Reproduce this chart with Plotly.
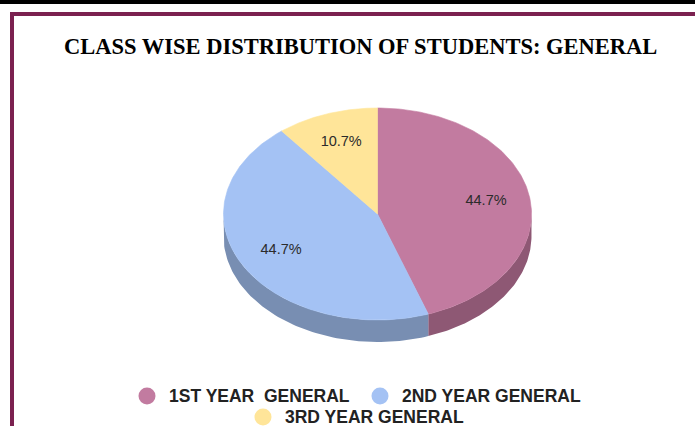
import numpy as np
import plotly.graph_objects as go

# ---- data ----
categories = ["1ST YEAR  GENERAL", "2ND YEAR GENERAL", "3RD YEAR GENERAL"]
values = [44.7, 44.7, 10.7]
top_colors = ["#C27BA0", "#A4C2F4", "#FFE599"]
side_colors = ["#8E5874", "#788EB2", "#BBA870"]
title_text = "CLASS WISE DISTRIBUTION OF STUDENTS: GENERAL"

# ---- geometry (pixel space) ----
W, H = 695, 426
cx, cy = 377.5, 214.0
a, b = 154.0, 106.0
depth = 22.0
label_r = 0.715


def pt(theta_deg, yoff=0.0, r=1.0):
    t = np.radians(theta_deg)
    return cx + r * a * np.sin(t), cy - r * b * np.cos(t) + yoff


fig = go.Figure()

total = sum(values)
fracs = [v / total for v in values]
starts = np.cumsum([0] + fracs[:-1]) * 360
ends = np.cumsum(fracs) * 360

# side faces (visible front half: 90..270 degrees)
for s, e, col in zip(starts, ends, side_colors):
    lo, hi = max(s, 90), min(e, 270)
    if hi <= lo:
        continue
    th = np.linspace(lo, hi, 80)
    xs_top, ys_top = pt(th)
    xs_bot, ys_bot = pt(th[::-1], depth)
    xs = np.concatenate([xs_top, xs_bot, xs_top[:1]])
    ys = np.concatenate([ys_top, ys_bot, ys_top[:1]])
    fig.add_trace(go.Scatter(x=xs, y=ys, mode="lines", fill="toself",
                             fillcolor=col, line=dict(width=0, color=col),
                             hoverinfo="skip", showlegend=False))

# top faces
for cat, s, e, col in zip(categories, starts, ends, top_colors):
    th = np.linspace(s, e, 150)
    xs_arc, ys_arc = pt(th)
    xs = np.concatenate([[cx], xs_arc, [cx]])
    ys = np.concatenate([[cy], ys_arc, [cy]])
    fig.add_trace(go.Scatter(x=xs, y=ys, mode="lines", fill="toself",
                             fillcolor=col, line=dict(width=0.6, color=col),
                             name=cat, hoverinfo="name", showlegend=False))

# percentage labels
lx, ly, lt = [], [], []
for s, e, f in zip(starts, ends, fracs):
    x, y = pt((s + e) / 2, r=label_r)
    lx.append(x)
    ly.append(y)
    lt.append(f"{f*100:.1f}%")
fig.add_trace(go.Scatter(x=lx, y=ly, mode="text", text=lt,
                         textfont=dict(family="Liberation Sans, Arial", size=14.5, color="#2b2b2b"),
                         hoverinfo="skip", showlegend=False))

# manual legend
leg_pos = [(147, 396), (380, 396), (263, 417)]
fig.add_trace(go.Scatter(x=[p[0] for p in leg_pos], y=[p[1] for p in leg_pos],
                         mode="markers",
                         marker=dict(size=17, color=top_colors, line=dict(width=0)),
                         hoverinfo="skip", showlegend=False))
annotations = []
for cat, (x, y) in zip(categories, leg_pos):
    annotations.append(dict(x=x + 20, y=y, xref="x", yref="y", text=cat.replace("  ", "\u00a0 "),
                            showarrow=False, xanchor="left", yanchor="middle",
                            font=dict(family="Liberation Sans, Arial", size=17.5, color="#222222",
                                      weight="bold")))

annotations.append(dict(x=360.5, y=46, xref="x", yref="y", text=f"<b>{title_text}</b>",
                        showarrow=False, xanchor="center", yanchor="middle",
                        font=dict(family="Liberation Serif, Times New Roman", size=22.5, color="#000000")))

shapes = [
    dict(type="rect", xref="x", yref="y", x0=0, x1=W, y0=0, y1=4, fillcolor="#000000",
         line=dict(width=0), layer="above"),
    dict(type="path", xref="x", yref="y", path=f"M 12 {H+5} L 12 14 L {W+5} 14",
         line=dict(color="#7B2150", width=4), layer="above"),
]

fig.update_layout(
    width=W, height=H,
    margin=dict(l=0, r=0, t=0, b=0),
    paper_bgcolor="white", plot_bgcolor="white",
    xaxis=dict(range=[0, W], visible=False, fixedrange=True),
    yaxis=dict(range=[H, 0], visible=False, fixedrange=True),
    annotations=annotations,
    shapes=shapes,
    showlegend=False,
)

fig.write_html("out.html",
               config={"displayModeBar": False},
               post_script="document.body.style.margin='0';document.body.style.overflow='hidden';")
